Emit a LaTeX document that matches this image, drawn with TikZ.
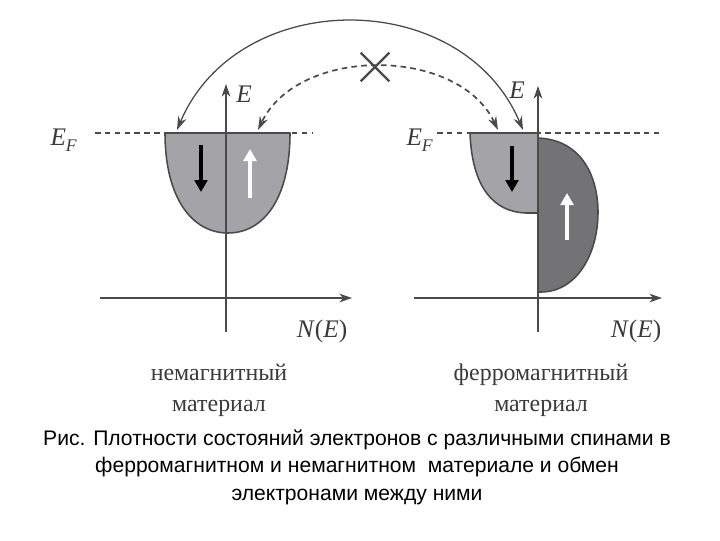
\documentclass[tikz,border=0pt]{standalone}
\usepackage{fontspec}
\setmainfont{Liberation Serif}
\newfontfamily\capfont{Liberation Sans}
\usetikzlibrary{arrows.meta, shapes.misc}
\definecolor{bandlight}{HTML}{A4A4A8}
\definecolor{banddark}{HTML}{737375}
\definecolor{edgegray}{HTML}{4A4A4A}
\definecolor{labelgray}{HTML}{3A3A3A}
\tikzset{
  axis/.style     = {draw=edgegray, line width=0.8pt, -{Stealth[length=3.2mm,width=2.2mm]}},
  fermi/.style    = {draw=edgegray, line width=0.9pt, dash pattern=on 4pt off 3pt},
  band/.style     = {draw=edgegray, line width=1.1pt, line join=round},
  spindown/.style = {draw=black, line width=2.2pt, -{Triangle[length=3mm,width=3.2mm]}},
  spinup/.style   = {draw=white, line width=2.2pt, -{Triangle[length=3mm,width=3.2mm]}},
  hop/.style      = {draw=edgegray, line width=0.9pt,
                     {Stealth[length=3.4mm,width=2.2mm]}-{Stealth[length=3.4mm,width=2.2mm]}},
  axlabel/.style  = {font=\fontsize{18}{20}\selectfont\itshape, text=labelgray, inner sep=1pt},
  matlabel/.style = {font=\fontsize{17}{22}\selectfont, text=labelgray, align=center},
}

\begin{document}
\begin{tikzpicture}[x=0.025cm, y=-0.025cm]
  \useasboundingbox (0,0) rectangle (720,540);

  % --- non-magnetic material (left)
  \coordinate (nax0) at (226,332);
  \coordinate (naxE) at (226,84);
  \coordinate (nay0) at (100,298);
  \coordinate (nayN) at (352,298);
  \coordinate (nf0) at (95,133);
  \coordinate (nf1) at (312,133);

  \draw[fermi] (nf0) -- (nf1);
  \filldraw[band, fill=bandlight] (165,133) -- (290,133)
     .. controls (290,198) and (264,233) .. (228,233)
     .. controls (192,233) and (165,198) .. (165,133) -- cycle;
  \draw[axis] (nax0) -- (naxE);
  \draw[axis] (nay0) -- (nayN);

  \coordinate (nd0) at (201,145);
  \coordinate (nd1) at (201,192);
  \coordinate (nu0) at (250,198);
  \coordinate (nu1) at (250,149);
  \draw[spindown] (nd0) -- (nd1);
  \draw[spinup] (nu0) -- (nu1);

  \node[axlabel] (nE) at (244,94) {E};
  \node[axlabel] (nEF) at (64,140) {E\textsubscript{\raisebox{-2pt}{F}}};
  \node[axlabel] (nN) at (322,331) {N\textup{(}E\textup{)}};
  \node[matlabel] (nmat) at (219,390) {немагнитный\\материал};

  % --- ferromagnetic material (right)
  \coordinate (fax0) at (538,332);
  \coordinate (faxE) at (538,86);
  \coordinate (fay0) at (414,298);
  \coordinate (fayN) at (662,298);
  \coordinate (ff0) at (437,133);
  \coordinate (ff1) at (662,133);

  \draw[fermi] (ff0) -- (ff1);
  \filldraw[band, fill=bandlight] (470,133) -- (538,133) -- (538,213) -- (526,213)
     .. controls (494,212) and (472,188) .. (470,133) -- cycle;
  \filldraw[band, fill=banddark] (538,138)
     .. controls (584,140) and (598,180) .. (598,212)
     .. controls (598,255) and (576,292) .. (541,292) -- (538,292) -- cycle;
  \draw[axis] (fax0) -- (faxE);
  \draw[axis] (fay0) -- (fayN);

  \coordinate (fd0) at (512,146);
  \coordinate (fd1) at (512,192);
  \coordinate (fu0) at (567,240);
  \coordinate (fu1) at (567,193);
  \draw[spindown] (fd0) -- (fd1);
  \draw[spinup] (fu0) -- (fu1);

  \node[axlabel] (fE) at (517,90) {E};
  \node[axlabel] (fEF) at (420,140) {E\textsubscript{\raisebox{-2pt}{F}}};
  \node[axlabel] (fN) at (636,331) {N\textup{(}E\textup{)}};
  \node[matlabel] (fmat) at (541,390) {ферромагнитный\\материал};

  % --- electron exchange
  \coordinate (nhop) at (177,130);
  \coordinate (fhop) at (523,130);
  \coordinate (nblock) at (258,130);
  \coordinate (fblock) at (498,130);
  \draw[hop] (fhop) .. controls (462,-14) and (238,-14) .. (nhop);
  \draw[hop, line width=1.2pt, dash pattern=on 4pt off 3pt] (fblock) .. controls (458,46) and (298,46) .. (nblock);
  \node[draw=edgegray, line width=1.6pt, cross out, minimum size=0.66cm] (block) at (375,67) {};

  % --- caption
  \node[font=\capfont\fontsize{15}{19.5}\selectfont, align=center] (caption) at (357,467)
    {Рис. Плотности состояний электронов с различными спинами в\\
     ферромагнитном и немагнитном\ \ материале и обмен\\
     электронами между ними};
\end{tikzpicture}
\end{document}
